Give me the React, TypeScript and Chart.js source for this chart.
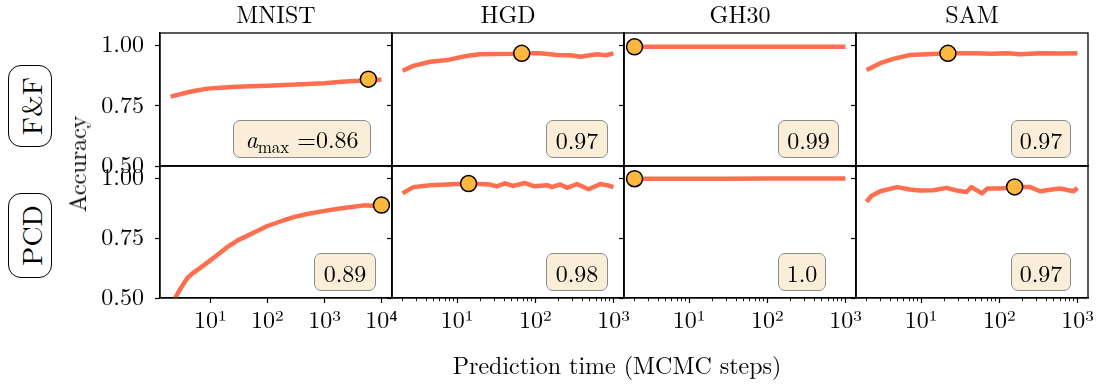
import React, { useEffect, useRef } from 'react';
import { Chart, registerables } from 'chart.js';

Chart.register(...registerables);

const SERIF = "'Latin Modern Roman', 'Liberation Serif', serif";

// ---------- text / ticks ----------
const datasetTitles = ['MNIST', 'HGD', 'GH30', 'SAM'];
const methodLabels = ['F&F', 'PCD'];
const yAxisTitle = 'Accuracy';
const xAxisTitle = 'Prediction time (MCMC steps)';
const yTickValues = [0.5, 0.75, 1.0];
const yTickLabels = ['0.50', '0.75', '1.00'];
const xDecadeValues = [1, 10, 100, 1000, 10000];
const xDecadeLabels = ['10⁰', '10¹', '10²', '10³', '10⁴'];
const xMinorFactors = [2, 3, 4, 5, 6, 7, 8, 9];

// ---------- series (row F&F) ----------
const mnistFfSteps = [2, 3, 4, 6, 8, 10, 15, 20, 30, 50, 100, 200, 500, 1000, 2000, 4000, 6000, 10000];
const mnistFfAcc = [0.787, 0.797, 0.805, 0.813, 0.818, 0.821, 0.824, 0.826, 0.828, 0.830, 0.832, 0.835, 0.839, 0.842, 0.848, 0.853, 0.857, 0.857];
const hgdFfSteps = [2, 2.75, 4.5, 7.4, 13, 19.5, 32, 50, 67, 115, 190, 280, 380, 500, 620, 800, 1000];
const hgdFfAcc = [0.894, 0.914, 0.931, 0.938, 0.955, 0.962, 0.963, 0.964, 0.966, 0.966, 0.959, 0.958, 0.952, 0.958, 0.962, 0.958, 0.966];
const gh30FfSteps = [2, 5, 10, 30, 100, 300, 1000];
const gh30FfAcc = [0.993, 0.993, 0.993, 0.993, 0.993, 0.993, 0.993];
const samFfSteps = [2, 3, 4.4, 7.2, 11.8, 22, 47, 80, 127, 185, 330, 600, 1000];
const samFfAcc = [0.897, 0.925, 0.943, 0.959, 0.962, 0.966, 0.966, 0.964, 0.966, 0.962, 0.966, 0.965, 0.966];

// ---------- series (row PCD) ----------
const mnistPcdSteps = [2, 2.4, 3, 4, 5, 7, 10, 15, 20, 30, 50, 70, 100, 200, 300, 500, 1000, 2000, 3000, 5000, 7000, 10000];
const mnistPcdAcc = [0.45, 0.5, 0.54, 0.585, 0.605, 0.63, 0.657, 0.69, 0.713, 0.74, 0.765, 0.782, 0.8, 0.825, 0.838, 0.85, 0.863, 0.874, 0.879, 0.886, 0.884, 0.888];
const hgdPcdSteps = [2, 2.75, 4.5, 7.4, 14, 26, 32, 41, 52, 74, 95, 142, 163, 208, 256, 340, 480, 680, 830, 1000];
const hgdPcdAcc = [0.936, 0.962, 0.97, 0.973, 0.977, 0.973, 0.965, 0.978, 0.967, 0.979, 0.966, 0.97, 0.962, 0.973, 0.959, 0.975, 0.953, 0.975, 0.97, 0.962];
const gh30PcdSteps = [2, 5, 10, 30, 100, 300, 1000];
const gh30PcdAcc = [0.997, 0.997, 0.997, 0.997, 0.998, 0.998, 0.998];
const samPcdSteps = [2, 2.3, 3, 4.9, 7.2, 9.7, 14.4, 21, 28.6, 38, 44, 60, 70, 103, 157, 250, 333, 495, 605, 890, 1000];
const samPcdAcc = [0.901, 0.925, 0.945, 0.962, 0.952, 0.948, 0.949, 0.959, 0.948, 0.942, 0.962, 0.936, 0.956, 0.956, 0.963, 0.962, 0.945, 0.953, 0.956, 0.945, 0.959];

// ---------- best points & annotations (row-major: F&F then PCD) ----------
const bestSteps = [5900, 67, 2, 22, 10000, 14, 2, 157];
const bestAcc = [0.859, 0.966, 0.993, 0.966, 0.887, 0.977, 0.997, 0.963];
const amaxLabels = ['0.86', '0.97', '0.99', '0.97', '0.89', '0.98', '1.0', '0.97'];

const panelSteps = [mnistFfSteps, hgdFfSteps, gh30FfSteps, samFfSteps, mnistPcdSteps, hgdPcdSteps, gh30PcdSteps, samPcdSteps];
const panelAcc = [mnistFfAcc, hgdFfAcc, gh30FfAcc, samFfAcc, mnistPcdAcc, hgdPcdAcc, gh30PcdAcc, samPcdAcc];

// ---------- layout ----------
const COL_LEFT = [160, 392, 624, 856];
const PANEL_W = 232;
const ROW_TOP = [33, 166];
const ROW_H = [133, 132];
const Y_MIN = 0.5;
const Y_MAX = 1.05;
const BOX_RECTS = [
  [233, 120, 371, 158], [546, 120, 608, 158], [778, 120, 839, 158], [1011, 120, 1071, 158],
  [314, 253, 376, 291], [546, 253, 608, 291], [778, 253, 826, 291], [1011, 253, 1071, 291],
];
const ROW_LABEL_RECTS = [[8, 65, 52, 147], [8, 193, 52, 278]];

const LINE_COLOR = '#ff6e4f';
const MARKER_COLOR = '#fdb73e';

const framePlugin = {
  id: 'frame',
  afterDatasetsDraw(chart: any) {
    const { ctx, chartArea: a } = chart;
    ctx.save();
    ctx.strokeStyle = '#000';
    ctx.lineWidth = 1.3;
    ctx.strokeRect(a.left, a.top, a.right - a.left, a.bottom - a.top);
    ctx.restore();
  },
};

function Panel({ idx }: { idx: number }) {
  const ref = useRef<HTMLCanvasElement>(null);
  const row = Math.floor(idx / 4);
  const col = idx % 4;
  const padL = col === 0 ? 75 : 12;
  const padR = 26;
  const padT = 34;
  const padB = row === 1 ? 50 : 34;
  const w = padL + PANEL_W + padR;
  const h = padT + ROW_H[row] + padB;

  useEffect(() => {
    if (!ref.current) return;
    const steps = panelSteps[idx];
    const acc = panelAcc[idx];
    const lo = Math.log10(Math.min(...steps));
    const hi = Math.log10(Math.max(...steps));
    const m = (hi - lo) * 0.05;
    const xMin = Math.pow(10, lo - m);
    const xMax = Math.pow(10, hi + m);
    const showMinor = hi - lo < 3.5;
    const bottom = row === 1;

    const chart = new Chart(ref.current, {
      type: 'line',
      data: {
        datasets: [
          {
            data: [{ x: bestSteps[idx], y: bestAcc[idx] }],
            showLine: false,
            pointRadius: 8,
            pointBackgroundColor: MARKER_COLOR,
            pointBorderColor: '#000',
            pointBorderWidth: 1.5,
            order: 0,
            clip: false,
          } as any,
          {
            data: steps.map((s, i) => ({ x: s, y: acc[i] })),
            borderColor: LINE_COLOR,
            borderWidth: 4.5,
            pointRadius: 0,
            tension: 0,
            order: 1,
            clip: 0,
            borderJoinStyle: 'round',
          } as any,
        ],
      },
      options: {
        animation: false,
        responsive: false,
        devicePixelRatio: 1,
        events: [],
        layout: { padding: { left: 0, right: padR, top: padT, bottom: 0 } },
        plugins: { legend: { display: false }, tooltip: { enabled: false }, title: { display: false } },
        scales: {
          x: {
            type: 'logarithmic',
            position: 'bottom',
            min: xMin,
            max: xMax,
            afterBuildTicks: (scale: any) => {
              const ticks: any[] = [];
              xDecadeValues.forEach((d) => {
                if (d >= scale.min && d <= scale.max) ticks.push({ value: d, major: true });
                if (showMinor) {
                  xMinorFactors.forEach((f) => {
                    const v = d * f;
                    if (v >= scale.min && v <= scale.max) ticks.push({ value: v, major: false });
                  });
                }
              });
              ticks.sort((a, b) => a.value - b.value);
              scale.ticks = ticks;
            },
            afterFit: (scale: any) => {
              scale.height = padB;
            },
            ticks: {
              display: bottom,
              autoSkip: false,
              maxRotation: 0,
              minRotation: 0,
              padding: 3,
              color: '#000',
              font: { family: SERIF, size: 24 },
              callback: (v: any, i: number, ticks: any[]) => {
                if (!ticks[i] || !ticks[i].major) return '';
                const k = xDecadeValues.indexOf(Number(v));
                return k >= 0 ? xDecadeLabels[k] : '';
              },
            },
            grid: {
              display: bottom,
              drawOnChartArea: false,
              drawTicks: true,
              tickLength: 5,
              tickColor: '#000',
              tickWidth: (ctx: any) => (ctx.tick && ctx.tick.major ? 1.2 : 0.9),
              tickBorderDash: (ctx: any) => (ctx.tick && !ctx.tick.major ? [3, 20] : []),
            },
            border: { display: true, color: '#000', width: 1.3 },
          } as any,
          y: {
            type: 'linear',
            min: Y_MIN,
            max: Y_MAX,
            afterBuildTicks: (scale: any) => {
              scale.ticks = yTickValues.map((v) => ({ value: v }));
            },
            afterFit: (scale: any) => {
              scale.width = padL;
            },
            ticks: {
              display: col === 0,
              padding: 11,
              color: '#000',
              font: { family: SERIF, size: 24 },
              callback: (v: any) => {
                const k = yTickValues.indexOf(Number(v));
                return k >= 0 ? yTickLabels[k] : '';
              },
            },
            grid: {
              drawOnChartArea: false,
              drawTicks: true,
              tickLength: 5,
              tickColor: '#000',
              tickWidth: 1.2,
            },
            border: { display: true, color: '#000', width: 1.3 },
          } as any,
        },
      },
      plugins: [framePlugin],
    } as any);
    return () => chart.destroy();
  }, []);

  return (
    <canvas
      ref={ref}
      width={w}
      height={h}
      style={{ position: 'absolute', left: COL_LEFT[col] - padL, top: ROW_TOP[row] - padT, width: w, height: h }}
    />
  );
}

function AnnotationBox({ idx }: { idx: number }) {
  const [x1, y1, x2, y2] = BOX_RECTS[idx];
  return (
    <div
      style={{
        position: 'absolute',
        left: x1,
        top: y1,
        width: x2 - x1,
        height: y2 - y1,
        boxSizing: 'border-box',
        border: '1.5px solid #8c8c8c',
        borderRadius: 7,
        background: '#faeed9',
        display: 'flex',
        alignItems: 'center',
        justifyContent: 'center',
        fontSize: 24,
        color: '#000',
        whiteSpace: 'nowrap',
        lineHeight: '28px',
      }}
    >
      {idx === 0 ? (
        <span>
          <span style={{ fontStyle: 'italic' }}>a</span>
          <span style={{ fontSize: 17, position: 'relative', top: 5 }}>max</span>
          {' =' + amaxLabels[idx]}
        </span>
      ) : (
        amaxLabels[idx]
      )}
    </div>
  );
}

export default function App() {
  return (
    <div
      style={{
        position: 'absolute',
        left: 0,
        top: 0,
        width: 1099,
        height: 385,
        background: '#fff',
        overflow: 'hidden',
        fontFamily: SERIF,
        color: '#000',
      }}
    >
      {Array.from({ length: 8 }, (_, i) => (
        <Panel key={i} idx={i} />
      ))}
      {datasetTitles.map((t, c) => (
        <div
          key={t}
          style={{
            position: 'absolute',
            left: COL_LEFT[c],
            width: PANEL_W,
            top: 0,
            height: 26,
            lineHeight: '26px',
            textAlign: 'center',
            fontSize: 24,
          }}
        >
          {t}
        </div>
      ))}
      {methodLabels.map((t, r) => {
        const [x1, y1, x2, y2] = ROW_LABEL_RECTS[r];
        return (
          <div
            key={t}
            style={{
              position: 'absolute',
              left: x1,
              top: y1,
              width: x2 - x1,
              height: y2 - y1,
              boxSizing: 'border-box',
              border: '1.5px solid #000',
              borderRadius: 13,
              background: '#fff',
              display: 'flex',
              alignItems: 'center',
              justifyContent: 'center',
            }}
          >
            <span style={{ writingMode: 'vertical-rl', transform: 'rotate(180deg)', fontSize: 28, lineHeight: 1 }}>{t}</span>
          </div>
        );
      })}
      <div
        style={{
          position: 'absolute',
          left: 76,
          top: 164,
          transform: 'translate(-50%, -50%) rotate(-90deg)',
          fontSize: 24,
          lineHeight: '28px',
          whiteSpace: 'nowrap',
        }}
      >
        {yAxisTitle}
      </div>
      <div
        style={{
          position: 'absolute',
          left: 317,
          width: 600,
          top: 350,
          height: 28,
          lineHeight: '28px',
          textAlign: 'center',
          fontSize: 24,
          whiteSpace: 'nowrap',
        }}
      >
        {xAxisTitle}
      </div>
      {amaxLabels.map((_, i) => (
        <AnnotationBox key={i} idx={i} />
      ))}
    </div>
  );
}
